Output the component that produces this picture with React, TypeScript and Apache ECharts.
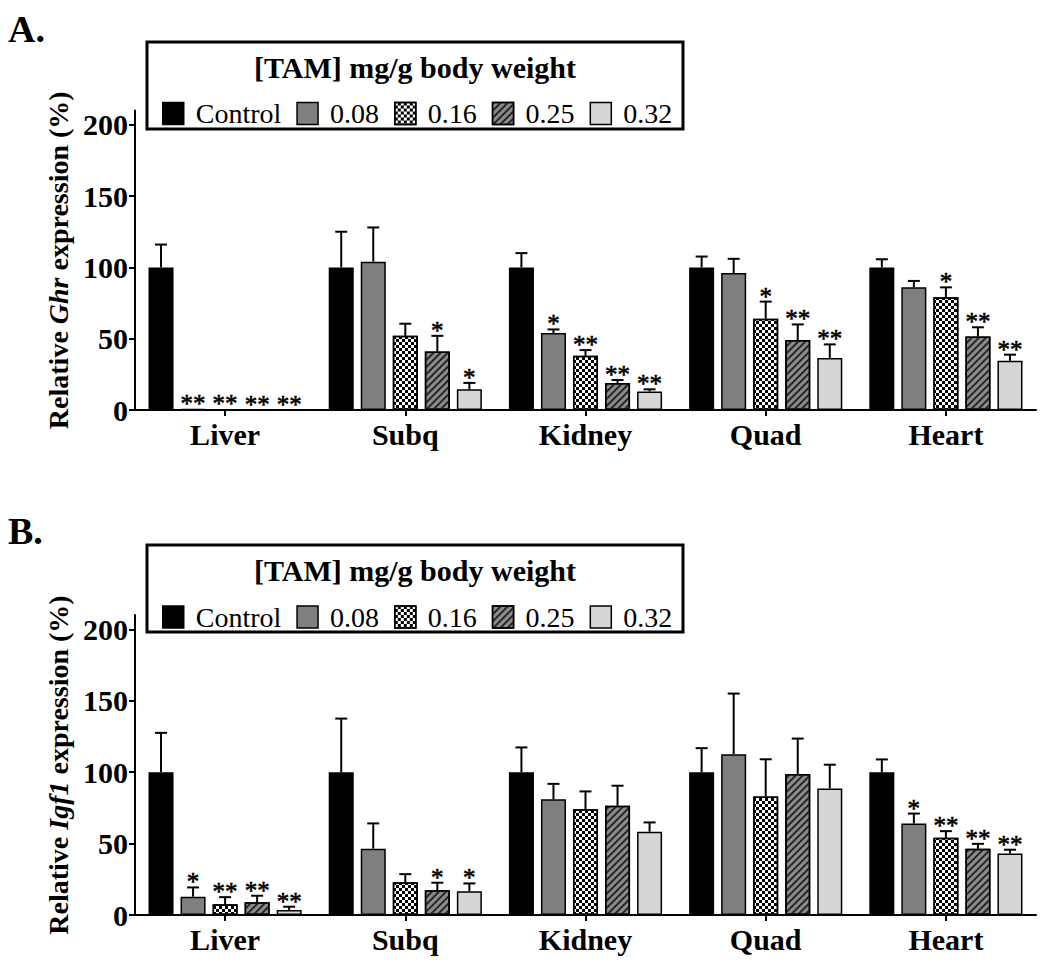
import React, { useEffect, useRef } from 'react';
import * as echarts from 'echarts';

const categories = ['Liver', 'Subq', 'Kidney', 'Quad', 'Heart'];
const doses = ['Control', '0.08', '0.16', '0.25', '0.32'];
const yTicks = [0, 50, 100, 150, 200];

// Panel A: relative Ghr expression (%)
const ghrControl = [100, 100, 100, 100, 100];
const ghr008 = [0.8, 104, 54, 96, 86];
const ghr016 = [0.5, 52, 38, 64, 79];
const ghr025 = [0.2, 41, 19, 49, 51.5];
const ghr032 = [0.2, 14.5, 13, 36.5, 34.5];
const ghrControlErr = [16, 25, 10, 7.6, 5.7];
const ghr008Err = [0, 24, 2.5, 10, 4.5];
const ghr016Err = [0, 8.5, 4, 12, 7];
const ghr025Err = [0, 11, 2, 11, 6.5];
const ghr032Err = [0, 4.5, 1.5, 9.5, 4.3];
const ghrControlSig = ['', '', '', '', ''];
const ghr008Sig = ['**', '', '*', '', ''];
const ghr016Sig = ['**', '', '**', '*', '*'];
const ghr025Sig = ['**', '*', '**', '**', '**'];
const ghr032Sig = ['**', '*', '**', '**', '**'];

// Panel B: relative Igf1 expression (%)
const igfControl = [100, 100, 100, 100, 100];
const igf008 = [12.8, 46.4, 81, 112.6, 64];
const igf016 = [7.5, 23, 74, 83, 54];
const igf025 = [8.9, 17.3, 76.5, 98.7, 46.3];
const igf032 = [3.5, 16.6, 58.3, 88.6, 43.1];
const igfControlErr = [27.5, 37.5, 17.3, 16.8, 8.9];
const igf008Err = [6.5, 17.7, 10.8, 42.4, 7];
const igf016Err = [5, 5.6, 12.5, 26, 4.7];
const igf025Err = [4.6, 5.3, 14, 24.8, 3.5];
const igf032Err = [2.3, 5.5, 6.5, 16.6, 2.6];
const igfControlSig = ['', '', '', '', ''];
const igf008Sig = ['*', '', '', '', '*'];
const igf016Sig = ['**', '', '', '', '**'];
const igf025Sig = ['**', '*', '', '', '**'];
const igf032Sig = ['**', '*', '', '', '**'];

const FONT = "'Liberation Serif', 'Times New Roman', serif";
const CAT_GAP = 0.15;
const BAR_GAP = 0.28;

const checker = {
  symbol: 'rect',
  symbolSize: 1,
  dashArrayX: [[3, 3], [0, 3, 3, 0]],
  dashArrayY: [3, 0],
  rotation: 0,
  color: '#000',
};
const stripes = {
  symbol: 'rect',
  symbolSize: 1,
  rotation: -Math.PI / 4,
  dashArrayX: [1, 0],
  dashArrayY: [2, 3],
  color: '#262626',
};

const doseStyles: any[] = [
  { color: '#000', borderColor: '#000', borderWidth: 1.5, decal: 'none' },
  { color: '#808080', borderColor: '#000', borderWidth: 1.5, decal: 'none' },
  { color: '#fff', borderColor: '#000', borderWidth: 1.5, decal: checker },
  { color: '#8c8c8c', borderColor: '#000', borderWidth: 1.5, decal: stripes },
  { color: '#d6d6d6', borderColor: '#000', borderWidth: 1.5, decal: 'none' },
];

function panelSeries(idx: number, values: number[][], errors: number[][], sigs: string[][]) {
  const bars = doses.map((d, i) => ({
    type: 'bar',
    name: d,
    xAxisIndex: idx,
    yAxisIndex: idx,
    data: values[i],
    barCategoryGap: CAT_GAP * 100 + '%',
    barGap: BAR_GAP * 100 + '%',
    itemStyle: doseStyles[i],
    emphasis: { disabled: true },
  }));
  const errData: number[][] = [];
  const sigList: string[] = [];
  for (let c = 0; c < categories.length; c++) {
    for (let i = 0; i < doses.length; i++) {
      errData.push([c, i, values[i][c], errors[i][c]]);
      sigList.push(sigs[i][c]);
    }
  }
  const custom = {
    type: 'custom',
    xAxisIndex: idx,
    yAxisIndex: idx,
    z: 5,
    silent: true,
    data: errData,
    encode: { x: 0, y: 2 },
    renderItem: (params: any, api: any) => {
      const c = api.value(0);
      const i = api.value(1);
      const v = api.value(2);
      const e = api.value(3);
      const sig = sigList[params.dataIndex];
      const band = api.size([1, 0])[0];
      const n = doses.length;
      const bw = (band * (1 - CAT_GAP)) / (n + (n - 1) * BAR_GAP);
      const pitch = bw * (1 + BAR_GAP);
      const base = api.coord([c, v]);
      const x = base[0] + (i - (n - 1) / 2) * pitch;
      const yv = base[1];
      const yt = api.coord([c, v + e])[1];
      const children: any[] = [];
      if (e > 0) {
        children.push({
          type: 'line',
          shape: { x1: x, y1: yv, x2: x, y2: yt },
          style: { stroke: '#000', lineWidth: 2 },
        });
        children.push({
          type: 'line',
          shape: { x1: x - 6, y1: yt, x2: x + 6, y2: yt },
          style: { stroke: '#000', lineWidth: 2 },
        });
      }
      if (sig) {
        children.push({
          type: 'text',
          style: {
            text: sig,
            x: x,
            y: yt + 7,
            align: 'center',
            verticalAlign: 'bottom',
            fontFamily: FONT,
            fontSize: 25,
            fill: '#000',
            stroke: '#000',
            lineWidth: 0.6,
          },
        });
      }
      return { type: 'group', children };
    },
  };
  return [...bars, custom];
}

function yAxisFor(idx: number, gene: string) {
  return {
    type: 'value',
    gridIndex: idx,
    min: 0,
    max: 210,
    interval: 50,
    name: '{b|Relative }{i|' + gene + '}{b| expression (%)}',
    nameLocation: 'middle',
    nameGap: 60,
    nameRotate: 90,
    nameTextStyle: {
      fontFamily: FONT,
      fontSize: 28,
      fontWeight: 'bold',
      color: '#000',
      rich: {
        b: { fontFamily: FONT, fontSize: 28, fontWeight: 'bold', color: '#000' },
        i: { fontFamily: FONT, fontSize: 28, fontWeight: 'bold', fontStyle: 'italic', color: '#000' },
      },
    },
    splitLine: { show: false },
    axisLine: { show: true, lineStyle: { color: '#000', width: 2 } },
    axisTick: { show: true, length: 6, lineStyle: { color: '#000', width: 2 }, customValues: yTicks },
    axisLabel: {
      fontFamily: FONT,
      fontSize: 30,
      fontWeight: 'bold',
      color: '#000',
      margin: 7,
      customValues: yTicks,
    },
  };
}

function xAxisFor(idx: number) {
  return {
    type: 'category',
    gridIndex: idx,
    data: categories,
    boundaryGap: true,
    axisLine: { show: true, lineStyle: { color: '#000', width: 2 } },
    axisTick: { show: true, alignWithLabel: true, length: 6, lineStyle: { color: '#000', width: 2 } },
    axisLabel: { fontFamily: FONT, fontSize: 30, fontWeight: 'bold', color: '#000', margin: 9 },
  };
}

function legendFor(top: number) {
  return {
    data: doses,
    left: 157,
    top: top,
    orient: 'horizontal',
    itemWidth: 21,
    itemHeight: 22,
    itemGap: 15,
    selectedMode: false,
    icon: 'rect',
    itemStyle: { borderColor: '#000', borderWidth: 1.5 },
    textStyle: { fontFamily: FONT, fontSize: 28, color: '#000', padding: [0, 0, 0, 7] },
  };
}

function legendBox(top: number, label: string, labelY: number) {
  return [
    {
      type: 'rect',
      shape: { x: 147, y: top, width: 536, height: 87 },
      style: { fill: 'none', stroke: '#000', lineWidth: 3 },
    },
    {
      type: 'text',
      style: {
        text: '[TAM] mg/g body weight',
        x: 415,
        y: top + 25,
        align: 'center',
        verticalAlign: 'middle',
        fontFamily: FONT,
        fontSize: 30,
        fontWeight: 'bold',
        fill: '#000',
      },
    },
    {
      type: 'text',
      style: {
        text: label,
        x: 8,
        y: labelY,
        align: 'left',
        verticalAlign: 'middle',
        fontFamily: FONT,
        fontSize: 38,
        fontWeight: 'bold',
        fill: '#000',
      },
    },
  ];
}

export default function App() {
  const ref = useRef<HTMLDivElement>(null);
  useEffect(() => {
    document.body.style.margin = '0';
    if (!ref.current) return;
    const chart = echarts.init(ref.current, null, { renderer: 'svg' });
    const ghrValues = [ghrControl, ghr008, ghr016, ghr025, ghr032];
    const ghrErrors = [ghrControlErr, ghr008Err, ghr016Err, ghr025Err, ghr032Err];
    const ghrSigs = [ghrControlSig, ghr008Sig, ghr016Sig, ghr025Sig, ghr032Sig];
    const igfValues = [igfControl, igf008, igf016, igf025, igf032];
    const igfErrors = [igfControlErr, igf008Err, igf016Err, igf025Err, igf032Err];
    const igfSigs = [igfControlSig, igf008Sig, igf016Sig, igf025Sig, igf032Sig];
    chart.setOption({
      animation: false,
      backgroundColor: '#fff',
      grid: [
        { left: 135, top: 110.5, width: 901, height: 299.5 },
        { left: 135, top: 615, width: 901, height: 300 },
      ],
      xAxis: [xAxisFor(0), xAxisFor(1)],
      yAxis: [yAxisFor(0, 'Ghr'), yAxisFor(1, 'Igf1')],
      legend: [legendFor(94.5), legendFor(598)],
      graphic: [...legendBox(42, 'A.', 29), ...legendBox(545, 'B.', 531)],
      series: [
        ...panelSeries(0, ghrValues, ghrErrors, ghrSigs),
        ...panelSeries(1, igfValues, igfErrors, igfSigs),
      ],
    });
    return () => chart.dispose();
  }, []);
  return <div ref={ref} style={{ width: 1050, height: 964 }} />;
}
